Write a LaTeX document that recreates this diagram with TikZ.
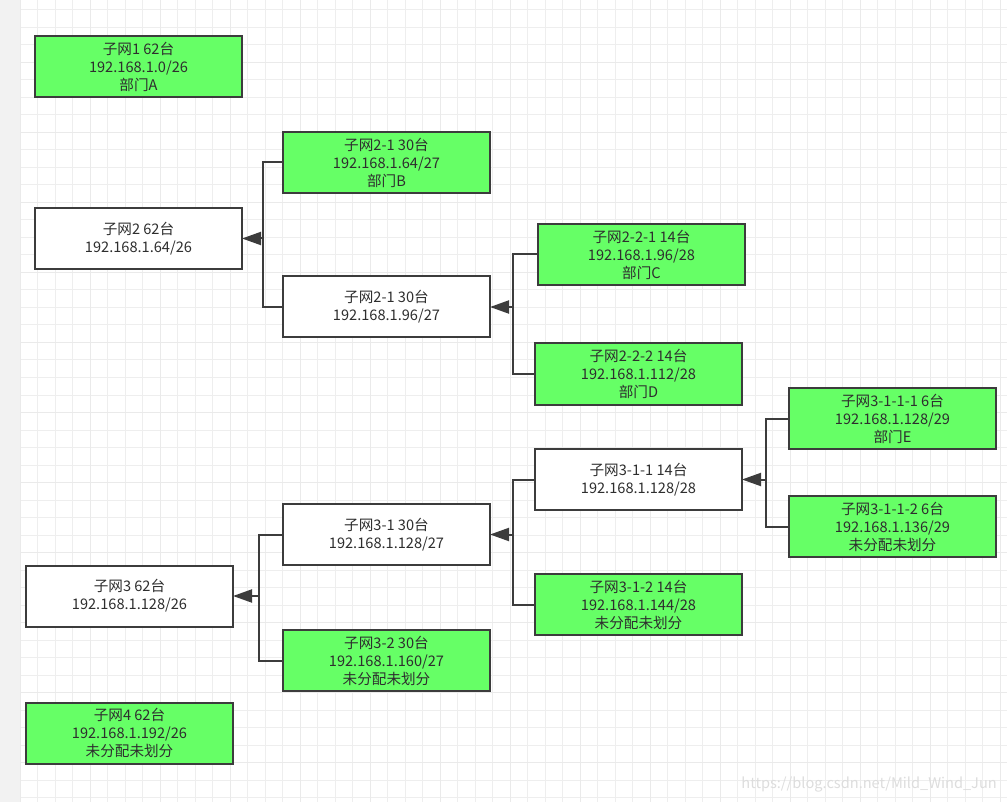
\documentclass[tikz,border=0pt]{standalone}
\usepackage{fontspec}
\setmainfont{Noto Sans CJK SC}
\usetikzlibrary{arrows.meta}
\definecolor{boxgreen}{HTML}{66FF66}
\definecolor{boxline}{HTML}{3C3C3C}
\definecolor{txt}{HTML}{2E2E2E}
\definecolor{gridc}{HTML}{EEEEEE}
\definecolor{gridm}{HTML}{EAEAEA}
\definecolor{strip}{HTML}{F2F2F2}
\definecolor{wm}{HTML}{DDDDDD}
\tikzset{
  netbox/.style={draw=boxline, line width=2pt, rectangle, minimum width=207pt, minimum height=61pt,
    inner sep=0pt, align=center, text=txt, font=\fontsize{14.6}{18}\selectfont},
  leaf/.style={netbox, fill=boxgreen},
  mid/.style={netbox, fill=white},
  link/.style={draw=boxline, line width=2pt},
  arr/.style={link, -{Triangle[length=19pt, width=13pt]}, shorten >=-1pt},
}
\begin{document}
\begin{tikzpicture}[x=1pt, y=-1pt]
\useasboundingbox (0,0) rectangle (1007,802);
\fill[white] (0,0) rectangle (1007,802);
\fill[strip] (0,0) rectangle (20,802);
\foreach \i in {1,...,56} {\draw[gridc, line width=1pt] ({20+17.5*\i},0) -- ({20+17.5*\i},802);}
\foreach \j in {0,...,45} {\draw[gridc, line width=1pt] (20,{10+17.5*\j}) -- (1007,{10+17.5*\j});}
\foreach \i in {0,4,...,56} {\draw[gridm, line width=1pt] ({20+17.5*\i},0) -- ({20+17.5*\i},802);}
\foreach \j in {3,7,...,45} {\draw[gridm, line width=1pt] (20,{10+17.5*\j}) -- (1007,{10+17.5*\j});}

\node[leaf] (n1)    at (138.5, 66.5)  {子网1 62台\\192.168.1.0/26\\部门A};
\node[leaf] (n21b)  at (386.5, 162.5) {子网2-1 30台\\192.168.1.64/27\\部门B};
\node[mid]  (n2)    at (138.5, 238.5) {子网2 62台\\192.168.1.64/26};
\node[mid]  (n21)   at (386.5, 307)   {子网2-1 30台\\192.168.1.96/27};
\node[leaf] (n221)  at (641.5, 254.5) {子网2-2-1 14台\\192.168.1.96/28\\部门C};
\node[leaf] (n222)  at (638.5, 374)   {子网2-2-2 14台\\192.168.1.112/28\\部门D};
\node[leaf] (n3111) at (892.5, 418.5) {子网3-1-1-1 6台\\192.168.1.128/29\\部门E};
\node[mid]  (n311)  at (638.5, 479.5) {子网3-1-1 14台\\192.168.1.128/28};
\node[leaf] (n3112) at (892.5, 526.5) {子网3-1-1-2 6台\\192.168.1.136/29\\未分配未划分};
\node[mid]  (n31)   at (386.5, 534.5) {子网3-1 30台\\192.168.1.128/27};
\node[leaf] (n312)  at (638.5, 604.5) {子网3-1-2 14台\\192.168.1.144/28\\未分配未划分};
\node[mid]  (n3)    at (129.5, 596)   {子网3 62台\\192.168.1.128/26};
\node[leaf] (n32)   at (386.5, 660.5) {子网3-2 30台\\192.168.1.160/27\\未分配未划分};
\node[leaf] (n4)    at (129.5, 733)   {子网4 62台\\192.168.1.192/26\\未分配未划分};

\coordinate (b2)   at (262.5, 238.5);
\coordinate (b21)  at (513, 307);
\coordinate (b311) at (766, 479.5);
\coordinate (b31)  at (513, 534.5);
\coordinate (b3)   at (259, 596);

\draw[link] (n21b.west) -| (b2) |- (n21.west);
\draw[arr] (b2) -- (n2.east);
\draw[link] (n221.west) -| (b21) |- (n222.west);
\draw[arr] (b21) -- (n21.east);
\draw[link] (n3111.west) -| (b311) |- (n3112.west);
\draw[arr] (b311) -- (n311.east);
\draw[link] (n311.west) -| (b31) |- (n312.west);
\draw[arr] (b31) -- (n31.east);
\draw[link] (n31.west) -| (b3) |- (n32.west);
\draw[arr] (b3) -- (n3.east);

\node[text=wm, font=\fontsize{14.6}{16}\selectfont, anchor=east, inner sep=0pt] (wmk) at (997, 785) {https://blog.csdn.net/Mild\_Wind\_Jun};
\end{tikzpicture}
\end{document}
